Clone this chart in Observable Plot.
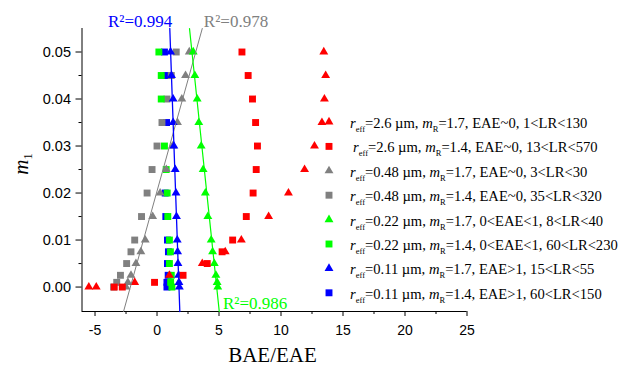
<!DOCTYPE html>
<html><head><meta charset="utf-8">
<script src="https://cdn.jsdelivr.net/npm/d3@7"></script>
<script src="https://cdn.jsdelivr.net/npm/@observablehq/plot@0.6"></script>
<style>body{margin:0;background:#fff} #chart{position:relative;width:641px;height:369px}</style>
</head><body><div id="chart"></div>
<script>
// ---------- data ----------
const xDomain = [-6.05, 25];
const yDomain = [-0.0052, 0.055];
const xTicks = [-5, 0, 5, 10, 15, 20, 25];
const xMinor = [-2.5, 2.5, 7.5, 12.5, 17.5, 22.5];
const yTicks = [0, 0.01, 0.02, 0.03, 0.04, 0.05];
const yMinor = [0.005, 0.015, 0.025, 0.035, 0.045];

// r_eff=2.6, mR=1.7 (red triangles)
const redTriY = [0, 0, 0.001, 0.0025, 0.005, 0.0075, 0.01, 0.015, 0.02, 0.025, 0.03, 0.035, 0.04, 0.045, 0.05];
const redTriX = [-5.5, -4.9, -1.8, 1.0, 3.65, 5.5, 6.8, 9.0, 10.6, 11.9, 12.7, 13.3, 13.5, 13.6, 13.45];
// r_eff=2.6, mR=1.4 (red squares)
const redSqY = [0, 0, 0.001, 0.0025, 0.005, 0.0075, 0.01, 0.015, 0.02, 0.025, 0.03, 0.035, 0.04, 0.045, 0.05];
const redSqX = [-3.45, -2.8, -0.2, 2.1, 4.05, 5.25, 6.1, 7.2, 7.75, 8.0, 8.1, 7.95, 7.7, 7.35, 6.85];
// r_eff=0.48, mR=1.7 (gray triangles)
const grayTriY = [0, 0.001, 0.0025, 0.005, 0.0075, 0.01, 0.015, 0.02, 0.025, 0.03, 0.035, 0.04, 0.045, 0.05];
const grayTriX = [-2.5, -2.35, -2.1, -1.7, -1.3, -0.95, -0.35, 0.25, 0.75, 1.25, 1.65, 2.0, 2.3, 2.6];
// r_eff=0.48, mR=1.4 (gray squares)
const graySqY = [0, 0.001, 0.0025, 0.005, 0.0075, 0.01, 0.015, 0.02, 0.025, 0.03, 0.035, 0.04, 0.045, 0.05];
const graySqX = [-3.5, -3.25, -2.95, -2.45, -2.1, -1.8, -1.25, -0.8, -0.4, 0.0, 0.4, 0.8, 1.15, 1.55];
// r_eff=0.22, mR=1.7 (green triangles)
const greenTriY = [0, 0.001, 0.0025, 0.005, 0.0075, 0.01, 0.015, 0.02, 0.025, 0.03, 0.035, 0.04, 0.045, 0.05];
const greenTriX = [4.9, 4.85, 4.75, 4.62, 4.48, 4.37, 4.1, 3.9, 3.72, 3.56, 3.37, 3.24, 3.05, 2.92];
// r_eff=0.22, mR=1.4 (green squares)
const greenSqY = [0, 0.001, 0.0025, 0.005, 0.0075, 0.01, 0.015, 0.02, 0.025, 0.03, 0.04, 0.045, 0.05];
const greenSqX = [1.2, 1.1, 1.15, 1.0, 1.08, 1.0, 0.87, 0.82, 0.74, 0.6, 0.34, 0.34, 0.15];
// r_eff=0.11, mR=1.7 (blue triangles)
const blueTriY = [0, 0.001, 0.0025, 0.005, 0.0075, 0.01, 0.015, 0.02, 0.025, 0.03, 0.035, 0.04, 0.045, 0.05];
const blueTriX = [1.8, 1.77, 1.74, 1.69, 1.66, 1.63, 1.57, 1.53, 1.47, 1.36, 1.3, 1.3, 1.17, 1.09];
// r_eff=0.11, mR=1.4 (blue squares)
const blueSqY = [0, 0.001, 0.0025, 0.005, 0.0075, 0.01, 0.015, 0.02, 0.035, 0.045, 0.05];
const blueSqX = [0.8, 0.8, 0.9, 0.84, 0.92, 0.84, 0.71, 0.66, 0.77, 0.75, 0.6];

// linear fits, at the bottom and top of the y range
const fitY = [-0.0052, 0.055];
const blueFitX = [1.84, 1.03];
const grayFitX = [-2.7, 3.65];
const greenFitX = [5.02, 2.62];
const r2Labels = ["R\u00b2=0.994", "R\u00b2=0.978", "R\u00b2=0.986"];

// legend
const legendR = ["2.6", "2.6", "0.48", "0.48", "0.22", "0.22", "0.11", "0.11"];
const legendM = ["1.7", "1.4", "1.7", "1.4", "1.7", "1.4", "1.7", "1.4"];
const legendRest = ["EAE~0, 1<LR<130", "EAE~0, 13<LR<570", "EAE~0, 3<LR<30", "EAE~0, 35<LR<320",
  "0<EAE<1, 8<LR<40", "0<EAE<1, 60<LR<230", "EAE>1, 15<LR<55", "EAE>1, 60<LR<150"];
const legendColor = ["#ff0000", "#ff0000", "#808080", "#808080", "#00ff00", "#00ff00", "#0000ff", "#0000ff"];
const legendSymbol = ["triangle", "square", "triangle", "square", "triangle", "square", "triangle", "square"];

// ---------- drawing ----------
const RSQ = 3.9, RTRI = 3.3;
const pts = (xs, ys) => xs.map((x, i) => ({x, y: ys[i]}));
const dots = (xs, ys, color, symbol) => Plot.dot(pts(xs, ys), {
  x: "x", y: "y", fill: color, stroke: "none", symbol, r: symbol === "square" ? RSQ : RTRI
});
const fitLine = (xs, color, w) => Plot.line(pts(xs, fitY), {x: "x", y: "y", stroke: color, strokeWidth: w});

const serif = "'Liberation Serif', 'Times New Roman', serif";

const svg = Plot.plot({
  width: 641, height: 369,
  marginLeft: 81.5, marginRight: 174.5, marginTop: 28, marginBottom: 58,
  x: {domain: xDomain},
  y: {domain: yDomain},
  style: {fontFamily: "'Liberation Sans', Arial, sans-serif", fontSize: "14px", color: "#000", background: "#fff", overflow: "visible"},
  marks: [
    Plot.axisX({ticks: xTicks, tickSize: 5, tickPadding: 9, tickFormat: d => String(d), label: null, fontSize: 14}),
    Plot.axisX({ticks: xMinor, tickSize: 3, tickFormat: () => "", label: null}),
    Plot.axisY({ticks: yTicks, tickSize: 6, tickPadding: 5, tickFormat: d => d.toFixed(2), label: null, fontSize: 14.5}),
    Plot.axisY({ticks: yMinor, tickSize: 3, tickFormat: () => "", label: null}),
    Plot.ruleY([yDomain[0]], {stroke: "#000"}),
    Plot.ruleX([xDomain[0]], {stroke: "#000"}),
    dots(blueSqX, blueSqY, "#0000ff", "square"),
    dots(graySqX, graySqY, "#808080", "square"),
    dots(greenSqX, greenSqY, "#00ff00", "square"),
    dots(grayTriX, grayTriY, "#808080", "triangle"),
    dots(greenTriX, greenTriY, "#00ff00", "triangle"),
    dots(blueTriX, blueTriY, "#0000ff", "triangle"),
    dots(redSqX, redSqY, "#ff0000", "square"),
    dots(redTriX, redTriY, "#ff0000", "triangle"),
    fitLine(grayFitX, "#808080", 1),
    fitLine(greenFitX, "#00ff00", 1.2),
    fitLine(blueFitX, "#0000ff", 1.3),
    Plot.text([{x: blueFitX[1], y: fitY[1], t: r2Labels[0]}], {x: "x", y: "y", text: "t", fill: "#0000ff",
      textAnchor: "end", lineAnchor: "bottom", dx: 2.5, dy: -1.6, fontFamily: serif, fontSize: 17}),
    Plot.text([{x: grayFitX[1], y: fitY[1], t: r2Labels[1]}], {x: "x", y: "y", text: "t", fill: "#808080",
      textAnchor: "start", lineAnchor: "bottom", dx: 1.6, dy: -1.3, fontFamily: serif, fontSize: 17}),
    Plot.text([{x: greenFitX[0], y: fitY[0], t: r2Labels[2]}], {x: "x", y: "y", text: "t", fill: "#00ff00",
      textAnchor: "start", lineAnchor: "bottom", dx: 3.7, dy: -3, fontFamily: serif, fontSize: 17})
  ]
});
document.getElementById("chart").appendChild(svg);

const s = d3.select(svg);
// y axis label  m_1
const yl = s.append("text").attr("transform", "translate(28,164) rotate(-90)")
  .attr("text-anchor", "middle").style("font-family", serif).style("font-size", "21px").attr("fill", "#000");
yl.append("tspan").style("font-style", "italic").text("m");
yl.append("tspan").attr("dy", 4).style("font-size", "13px").text("1");

// x axis label
s.append("text").attr("x", 272.5).attr("y", 361.5).attr("text-anchor", "middle")
  .style("font-family", serif).style("font-size", "21px").attr("fill", "#000").text("BAE/EAE");

// legend
const lg = s.append("g").attr("text-anchor", "start");
legendR.forEach((r, i) => {
  const cy = 122 + 24.4 * i;
  const sym = legendSymbol[i] === "square" ? d3.symbolSquare : d3.symbolTriangle;
  const rr = legendSymbol[i] === "square" ? RSQ : RTRI;
  lg.append("path").attr("transform", `translate(329,${cy})`)
    .attr("d", d3.symbol(sym, Math.PI * rr * rr)()).attr("fill", legendColor[i]);
  const t = lg.append("text").attr("x", i === 1 ? 353 : 350).attr("y", cy + 6).attr("text-anchor", "start")
    .style("font-family", serif).style("font-size", "14.6px").style("white-space", "pre").attr("fill", "#000");
  t.append("tspan").style("font-style", "italic").text("r");
  t.append("tspan").attr("dy", 4).style("font-size", "8.5px").text("eff");
  t.append("tspan").attr("dy", -4).text("=" + r + " \u00b5m, ");
  t.append("tspan").style("font-style", "italic").text("m");
  t.append("tspan").attr("dy", 4).style("font-size", "8.5px").text("R");
  t.append("tspan").attr("dy", -4).text("=" + legendM[i] + ", " + legendRest[i]);
});
</script>
</body></html>
